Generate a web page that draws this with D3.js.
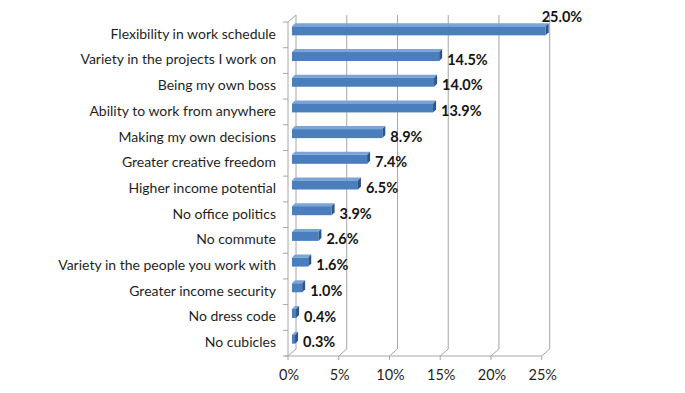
<!DOCTYPE html>
<html>
<head>
<meta charset="utf-8">
<script src="https://cdn.jsdelivr.net/npm/d3@7"></script>
<style>
  body { margin: 0; background: #fff; }
  #viz_container { width: 685px; height: 393px; }
  text { font-family: Lato, 'Open Sans', sans-serif; }
</style>
</head>
<body>
<div id="viz_container"></div>
<script>
// Data ////////////////////////////////////////////
const categories = [
  "Flexibility in work schedule",
  "Variety in the projects I work on",
  "Being my own boss",
  "Ability to work from anywhere",
  "Making my own decisions",
  "Greater creative freedom",
  "Higher income potential",
  "No office politics",
  "No commute",
  "Variety in the people you work with",
  "Greater income security",
  "No dress code",
  "No cubicles"
];
const values = [25.0, 14.5, 14.0, 13.9, 8.9, 7.4, 6.5, 3.9, 2.6, 1.6, 1.0, 0.4, 0.3];
const xTicks = [0, 5, 10, 15, 20, 25];

const width = 685, height = 393;

// plot area (front plane)
const plot = { left: 288, right: 541.7, top: 22, bottom: 356 };
// depth of the 3d box
const depthX = 8, depthY = -7;
// bars sit in the middle of the depth
const barDx = 4, barDy = -4;

const svg = d3.select("#viz_container")
  .append("svg")
    .attr("width", width)
    .attr("height", height);

const xScale = d3.scaleLinear()
  .domain([0, 25])
  .range([plot.left, plot.right]);

const yScale = d3.scaleBand()
  .domain(categories)
  .range([plot.top, plot.bottom]);

const gridColor = "#a6a6a6";

// back wall gridlines with the floor diagonals
const grid = svg.append("g");
xTicks.forEach(t => {
  const x = xScale(t);
  grid.append("path")
    .attr("d", `M${x + depthX},${plot.top + depthY} L${x + depthX},${plot.bottom + depthY} L${x},${plot.bottom}`)
    .attr("fill", "none")
    .attr("stroke", gridColor)
    .attr("stroke-width", 1);
});

// left wall front edge + top diagonal
grid.append("path")
  .attr("d", `M${plot.left + depthX},${plot.top + depthY} L${plot.left},${plot.top} L${plot.left},${plot.bottom}`)
  .attr("fill", "none")
  .attr("stroke", gridColor);

// bottom front edge
grid.append("line")
  .attr("x1", plot.left - 3).attr("x2", plot.right)
  .attr("y1", plot.bottom).attr("y2", plot.bottom)
  .attr("stroke", gridColor);

// left axis ticks at band edges
const bandEdges = categories.map(c => yScale(c)).concat([plot.bottom]);
grid.selectAll(".ytick")
  .data(bandEdges)
  .join("line")
    .attr("x1", plot.left - 5).attr("x2", plot.left)
    .attr("y1", d => d).attr("y2", d => d)
    .attr("stroke", gridColor);

// bottom ticks
grid.selectAll(".xtick")
  .data(xTicks)
  .join("line")
    .attr("x1", d => xScale(d)).attr("x2", d => xScale(d))
    .attr("y1", plot.bottom).attr("y2", plot.bottom + 4)
    .attr("stroke", gridColor);

// x tick labels
svg.append("g")
  .selectAll("text")
  .data(xTicks)
  .join("text")
    .attr("x", d => xScale(d) + 1)
    .attr("y", 380)
    .attr("text-anchor", "middle")
    .attr("font-size", "14.5px")
    .attr("fill", "#1f1f1f")
    .text(d => d + "%");

// category labels
svg.append("g")
  .selectAll("text")
  .data(categories)
  .join("text")
    .attr("x", 276)
    .attr("y", d => yScale(d) + yScale.bandwidth() / 2 - 1)
    .attr("dy", "0.35em")
    .attr("text-anchor", "end")
    .attr("font-size", "14px")
    .attr("fill", "#1f1f1f")
    .text(d => d);

// 3d bars
const barH = 9, barDepth = 3;
const bars = svg.append("g")
  .selectAll("g")
  .data(categories.map((c, i) => ({ c, v: values[i] })))
  .join("g");

const x0 = d => xScale(0) + barDx;
const x1 = d => xScale(d.v) + barDx;
const yT = d => yScale(d.c) + yScale.bandwidth() / 2 + barDy - barH / 2;

// top face
bars.append("path")
  .attr("d", d => {
    const a = x0(d), b = x1(d), y = yT(d);
    return `M${a},${y} L${b},${y} L${b + barDepth},${y - barDepth} L${a + barDepth},${y - barDepth} Z`;
  })
  .attr("fill", "#7ba4d8");

// side face
bars.append("path")
  .attr("d", d => {
    const b = x1(d), y = yT(d);
    return `M${b},${y} L${b + barDepth},${y - barDepth} L${b + barDepth},${y + barH - barDepth} L${b},${y + barH} Z`;
  })
  .attr("fill", "#2c568a");

// front face
bars.append("rect")
  .attr("x", x0)
  .attr("y", yT)
  .attr("width", d => x1(d) - x0(d))
  .attr("height", barH)
  .attr("fill", "#4a7ebd");

// value labels
const maxV = d3.max(values);
bars.append("text")
  .attr("x", d => d.v === maxV ? x1(d) - 4 : x1(d) + 8)
  .attr("y", d => d.v === maxV ? yT(d) - 9 : yT(d) + barH / 2 + 3)
  .attr("dy", "0.35em")
  .attr("font-size", "14.5px")
  .attr("font-weight", "bold")
  .attr("fill", "#141414")
  .text(d => d.v.toFixed(1) + "%");
</script>
</body>
</html>
